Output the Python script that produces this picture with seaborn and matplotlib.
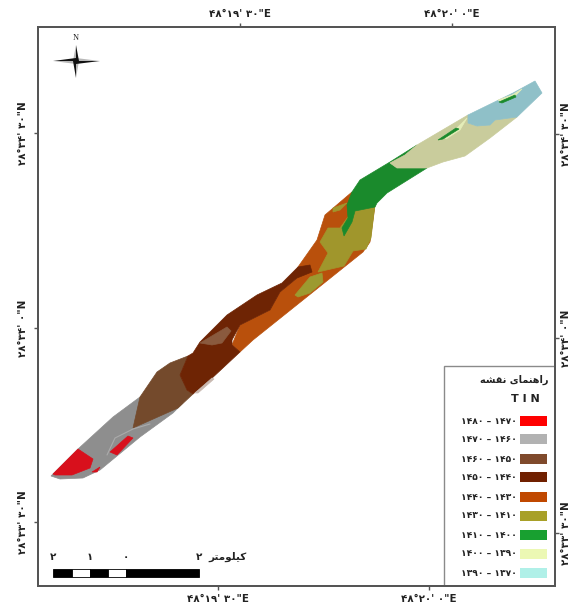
import matplotlib
matplotlib.use("Agg")
import matplotlib.pyplot as plt
from matplotlib.patches import Polygon, Rectangle
import seaborn as sns

# ---------- data (map position in image pixels) ----------
legend_labels = ["۱۴۸۰ – ۱۴۷۰", "۱۴۷۰ – ۱۴۶۰", "۱۴۶۰ – ۱۴۵۰", "۱۴۵۰ – ۱۴۴۰", "۱۴۴۰ – ۱۴۳۰",
                 "۱۴۳۰ – ۱۴۱۰", "۱۴۱۰ – ۱۴۰۰", "۱۴۰۰ – ۱۳۹۰", "۱۳۹۰ – ۱۳۷۰"]
legend_colors = ["#FF0000", "#B2B2B2", "#7F4A2C", "#702000", "#C04800",
                 "#A8A028", "#18A030", "#ECF8B4", "#B0F0E8"]
legend_y = [421, 439, 459, 477, 497, 516, 535, 554, 573]

gray_zone = [(51, 476), (78, 449), (113, 417), (140, 397), (150, 392), (133, 428), (170, 410), (183, 403),
             (173, 413), (140, 437), (100, 470), (83, 478), (60, 479)]
red_zone_a = [(53, 474), (78, 449), (93, 459), (90, 468), (72, 475), (55, 475)]
red_zone_b = [(110, 452), (128, 436), (133, 438), (117, 455)]
red_zone_c = [(92, 472), (100, 467), (97, 472)]
brown_zone = [(140, 397), (157, 372), (170, 363), (188, 356), (180, 375), (187, 390), (193, 394),
              (178, 408), (133, 428)]
brown_patch = [(200, 343), (227, 327), (231, 331), (222, 343), (212, 345)]
dark_zone = [(188, 356), (193, 353), (200, 342), (227, 315), (257, 295), (282, 283), (298, 267), (310, 265),
             (312, 272), (297, 278), (280, 292), (270, 310), (240, 325), (232, 340), (232, 345), (240, 352),
             (210, 380), (193, 394), (187, 390), (180, 375)]
orange_zone = [(232, 345), (240, 325), (270, 310), (280, 292), (297, 278), (298, 267), (317, 240), (325, 215),
               (352, 192), (375, 205), (370, 242), (363, 252), (303, 300), (253, 340), (240, 352)]
olive_zone_a = [(320, 242), (328, 228), (340, 228), (353, 210), (375, 205), (371, 238), (366, 249), (353, 251),
                (344, 266), (318, 272), (328, 253)]
olive_zone_b = [(295, 295), (310, 277), (322, 273), (323, 282), (310, 293), (298, 297)]
olive_zone_c = [(333, 208), (347, 203), (340, 210), (333, 212)]
green_zone = [(352, 192), (360, 180), (390, 162), (417, 145), (405, 155), (390, 163), (397, 168), (427, 168),
              (387, 193), (377, 203), (375, 207), (355, 211), (352, 222), (344, 236), (342, 228), (348, 218),
              (347, 205)]
pale_zone = [(390, 163), (405, 155), (417, 145), (468, 115), (468, 123), (477, 126), (490, 125), (495, 120),
             (517, 117), (490, 138), (465, 156), (443, 162), (427, 168), (397, 168)]
cyan_zone = [(468, 115), (513, 93), (535, 81), (542, 93), (517, 117), (495, 120), (490, 125), (477, 126),
             (468, 123)]
pale_streak_a = [(444, 136), (458, 127), (467, 118), (460, 130), (446, 139)]
green_streak_a = [(438, 140), (456, 128), (459, 129), (443, 139)]
pale_streak_b = [(498, 100), (512, 95), (522, 89), (514, 97), (502, 102)]
green_streak_b = [(499, 102), (515, 95), (516, 97), (502, 103)]
gray_sliver = [(195, 393), (212, 378), (214, 379), (198, 393)]

map_regions = [
    (gray_zone, "#8E8E8E"), (brown_zone, "#744A2C"), (orange_zone, "#B9500C"), (dark_zone, "#6E2404"),
    (brown_patch, "#8A5A3E"), (gray_sliver, "#C8B8B0"), (olive_zone_a, "#A0962C"), (olive_zone_b, "#9C9A30"),
    (olive_zone_c, "#A0962C"), (red_zone_a, "#D8101C"), (red_zone_b, "#D8101C"), (red_zone_c, "#D8101C"),
    (green_zone, "#1A8A2C"), (pale_zone, "#C9CC9C"), (cyan_zone, "#8FC0C8"),
    (pale_streak_a, "#E4EDB8"), (green_streak_a, "#1A8A2C"), (pale_streak_b, "#E4EDB8"), (green_streak_b, "#1A8A2C"),
]
light_streak = [(107, 455), (115, 438), (133, 429), (150, 424)]

north_black = [[(76, 45), (79, 61), (76, 61)], [(76, 78), (73, 61), (76, 61)],
               [(53, 61), (76, 58), (76, 61)], [(100, 61), (76, 64), (76, 61)]]
north_gray = [[(76, 45), (73, 61), (76, 61)], [(76, 78), (79, 61), (76, 61)],
              [(53, 61), (76, 64), (76, 61)], [(100, 61), (76, 58), (76, 61)]]

scale_edges = [53, 72, 90, 108, 126, 199]
scale_fill = ["black", "white", "black", "white", "black"]
scale_labels = ["۲", "۱", "۰", "۲"]
scale_label_x = [53, 90, 126, 199]

bottom_ticks = [218, 429]
top_ticks = [240, 452]
left_ticks = [133, 328, 522]
right_ticks = [134, 338, 533]
lon_labels = ["۴۸°۱۹' ۳۰\"E", "۴۸°۲۰' ۰\"E"]
lat_labels = ["۲۸°۳۴' ۳۰\"N", "۲۸°۳۴' ۰\"N", "۲۸°۳۳' ۳۰\"N"]

# Persian words in hand-shaped presentation forms, stored in visual order
legend_title = "\uFEAD\uFE8D\uFEEB\uFEE8\uFEE4\uFE8E\uFBFC \uFEE7\uFED8\uFEB8\uFEEA"[::-1]
scale_unit = "\uFB90\uFBFF\uFEE0\uFEEE\uFEE3\uFE98\uFEAE"[::-1]

# ---------- figure ----------
sns.set_theme(style="ticks")
plt.rcParams["font.family"] = ["DejaVu Sans"]
W, H = 573, 603
L, R, T, B = 37.5, 555, 27, 586
FRAME = "#555555"
TXT = "#222222"

fig = plt.figure(figsize=(W / 100, H / 100), dpi=100, facecolor="white")
ax = fig.add_axes([L / W, 1 - B / H, (R - L) / W, (B - T) / H])
ax.set_xlim(L, R)
ax.set_ylim(B, T)
ax.set_facecolor("white")
sns.despine(ax=ax, top=False, right=False)

for verts, colour in map_regions:
    ax.add_patch(Polygon(verts, closed=True, facecolor=colour, edgecolor=colour, lw=0.5, zorder=2))
ax.plot(*zip(*light_streak), color="#ABABAB", lw=0.8, zorder=3)

# north arrow
for tri in north_gray:
    ax.add_patch(Polygon(tri, closed=True, facecolor="#B8B8B8", edgecolor="none", zorder=4))
for tri in north_black:
    ax.add_patch(Polygon(tri, closed=True, facecolor="#111111", edgecolor="none", zorder=4))
ax.text(76, 38, "N", ha="center", va="center", fontsize=6, family="Liberation Serif", color=TXT)

# scale bar
for x0, x1, colour in zip(scale_edges[:-1], scale_edges[1:], scale_fill):
    ax.add_patch(Rectangle((x0, 569), x1 - x0, 8, facecolor=colour, edgecolor="black", lw=0.6, zorder=4))
for x, label in zip(scale_label_x, scale_labels):
    ax.text(x, 557, label, ha="center", va="center", fontsize=7.5, fontweight="bold", color=TXT)
ax.text(208, 557, scale_unit, ha="left", va="center", fontsize=7.5, fontweight="bold", color=TXT)

# legend panel
ax.add_patch(Rectangle((443.5, 366), R - 443.5, B - 366, facecolor="white", edgecolor="#8A8A8A", lw=1.0, zorder=5))
ax.text(548, 380, legend_title, ha="right", va="center", fontsize=7, fontweight="bold", color=TXT, zorder=6)
ax.text(540, 399, "T I N", ha="right", va="center", fontsize=8, fontweight="bold", color=TXT, zorder=6)
for y, label, colour in zip(legend_y, legend_labels, legend_colors):
    ax.add_patch(Rectangle((520, y - 5), 27, 10, facecolor=colour, edgecolor="none", zorder=6))
    ax.text(517, y, label, ha="right", va="center", fontsize=6.6, fontweight="bold", color=TXT, zorder=6)

# graticule ticks on all four sides
tick_kw = dict(length=3, width=1, color=FRAME, labelsize=7.4, labelcolor=TXT)
ax.set_xticks(bottom_ticks, lon_labels, fontweight="bold")
ax.set_yticks(left_ticks, lat_labels, fontweight="bold", rotation=90, va="center")
ax.tick_params(axis="x", pad=3, **tick_kw)
ax.tick_params(axis="y", pad=4, **tick_kw)

top = ax.twiny()
top.set_xlim(L, R)
top.set_xticks(top_ticks, lon_labels, fontweight="bold")
top.tick_params(axis="x", pad=3, **tick_kw)
right = ax.twinx()
right.set_ylim(B, T)
right.set_yticks(right_ticks, lat_labels, fontweight="bold", rotation=90, va="center")
right.tick_params(axis="y", pad=1.5, labelright=True, **tick_kw)

for a in (ax, top, right):
    for spine in a.spines.values():
        spine.set_color(FRAME)
        spine.set_linewidth(1.4)

fig.savefig("out.png", dpi=100)
